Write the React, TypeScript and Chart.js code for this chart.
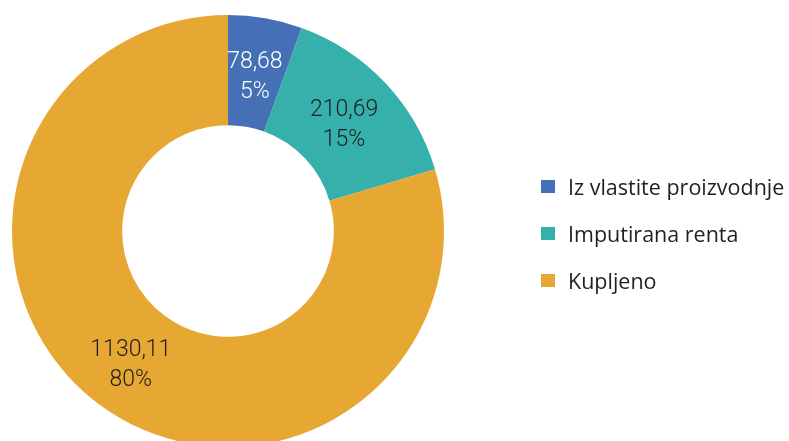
import React, { useEffect, useRef } from "react";
import { Chart, registerables } from "chart.js";

Chart.register(...registerables);

const categories = ["Iz vlastite proizvodnje", "Imputirana renta", "Kupljeno"];
const values = [78.68, 210.69, 1130.11];
const valueLabels = ["78,68", "210,69", "1130,11"];
const percentLabels = ["5%", "15%", "80%"];
const colors = ["#4570B5", "#35B0AA", "#E7A733"];
const labelColors = ["#FFFFFF", "#1E1E1E", "#1E1E1E"];

const sliceLabels = {
  id: "sliceLabels",
  afterDatasetsDraw(chart: any) {
    const ctx = chart.ctx;
    const meta = chart.getDatasetMeta(0);
    ctx.save();
    ctx.font = "300 23px Roboto";
    ctx.textAlign = "center";
    ctx.textBaseline = "middle";
    meta.data.forEach((arc: any, i: number) => {
      const p = arc.tooltipPosition();
      ctx.fillStyle = labelColors[i];
      ctx.fillText(valueLabels[i], p.x - 1, p.y - 10);
      ctx.fillText(percentLabels[i], p.x - 1, p.y + 20);
    });
    ctx.restore();
  },
};

export default function App() {
  const ref = useRef<HTMLCanvasElement>(null);
  useEffect(() => {
    if (!ref.current) return;
    const chart = new Chart(ref.current, {
      type: "doughnut",
      data: {
        labels: categories,
        datasets: [
          {
            data: values,
            backgroundColor: colors,
            borderWidth: 0,
          },
        ],
      },
      options: {
        animation: false,
        responsive: false,
        cutout: "49%",
        layout: { padding: { left: 12, top: 15, right: 345, bottom: 23 } },
        plugins: { legend: { display: false }, tooltip: { enabled: false } },
      },
      plugins: [sliceLabels],
    });
    return () => chart.destroy();
  }, []);

  return (
    <div
      style={{
        position: "fixed",
        left: 0,
        top: 0,
        width: 789,
        height: 441,
        overflow: "hidden",
        background: "#fff",
      }}
    >
      <canvas ref={ref} width={789} height={470} style={{ display: "block" }} />
      <div style={{ position: "absolute", left: 541, top: 163 }}>
        {categories.map((c, i) => (
          <div
            key={c}
            style={{
              display: "flex",
              alignItems: "center",
              height: 47,
              fontFamily: "'Open Sans', sans-serif",
              fontSize: 21.5,
              color: "#231F20",
              whiteSpace: "nowrap",
            }}
          >
            <span
              style={{
                display: "inline-block",
                width: 14,
                height: 13,
                background: colors[i],
                marginRight: 13,
              }}
            />
            {c}
          </div>
        ))}
      </div>
    </div>
  );
}
